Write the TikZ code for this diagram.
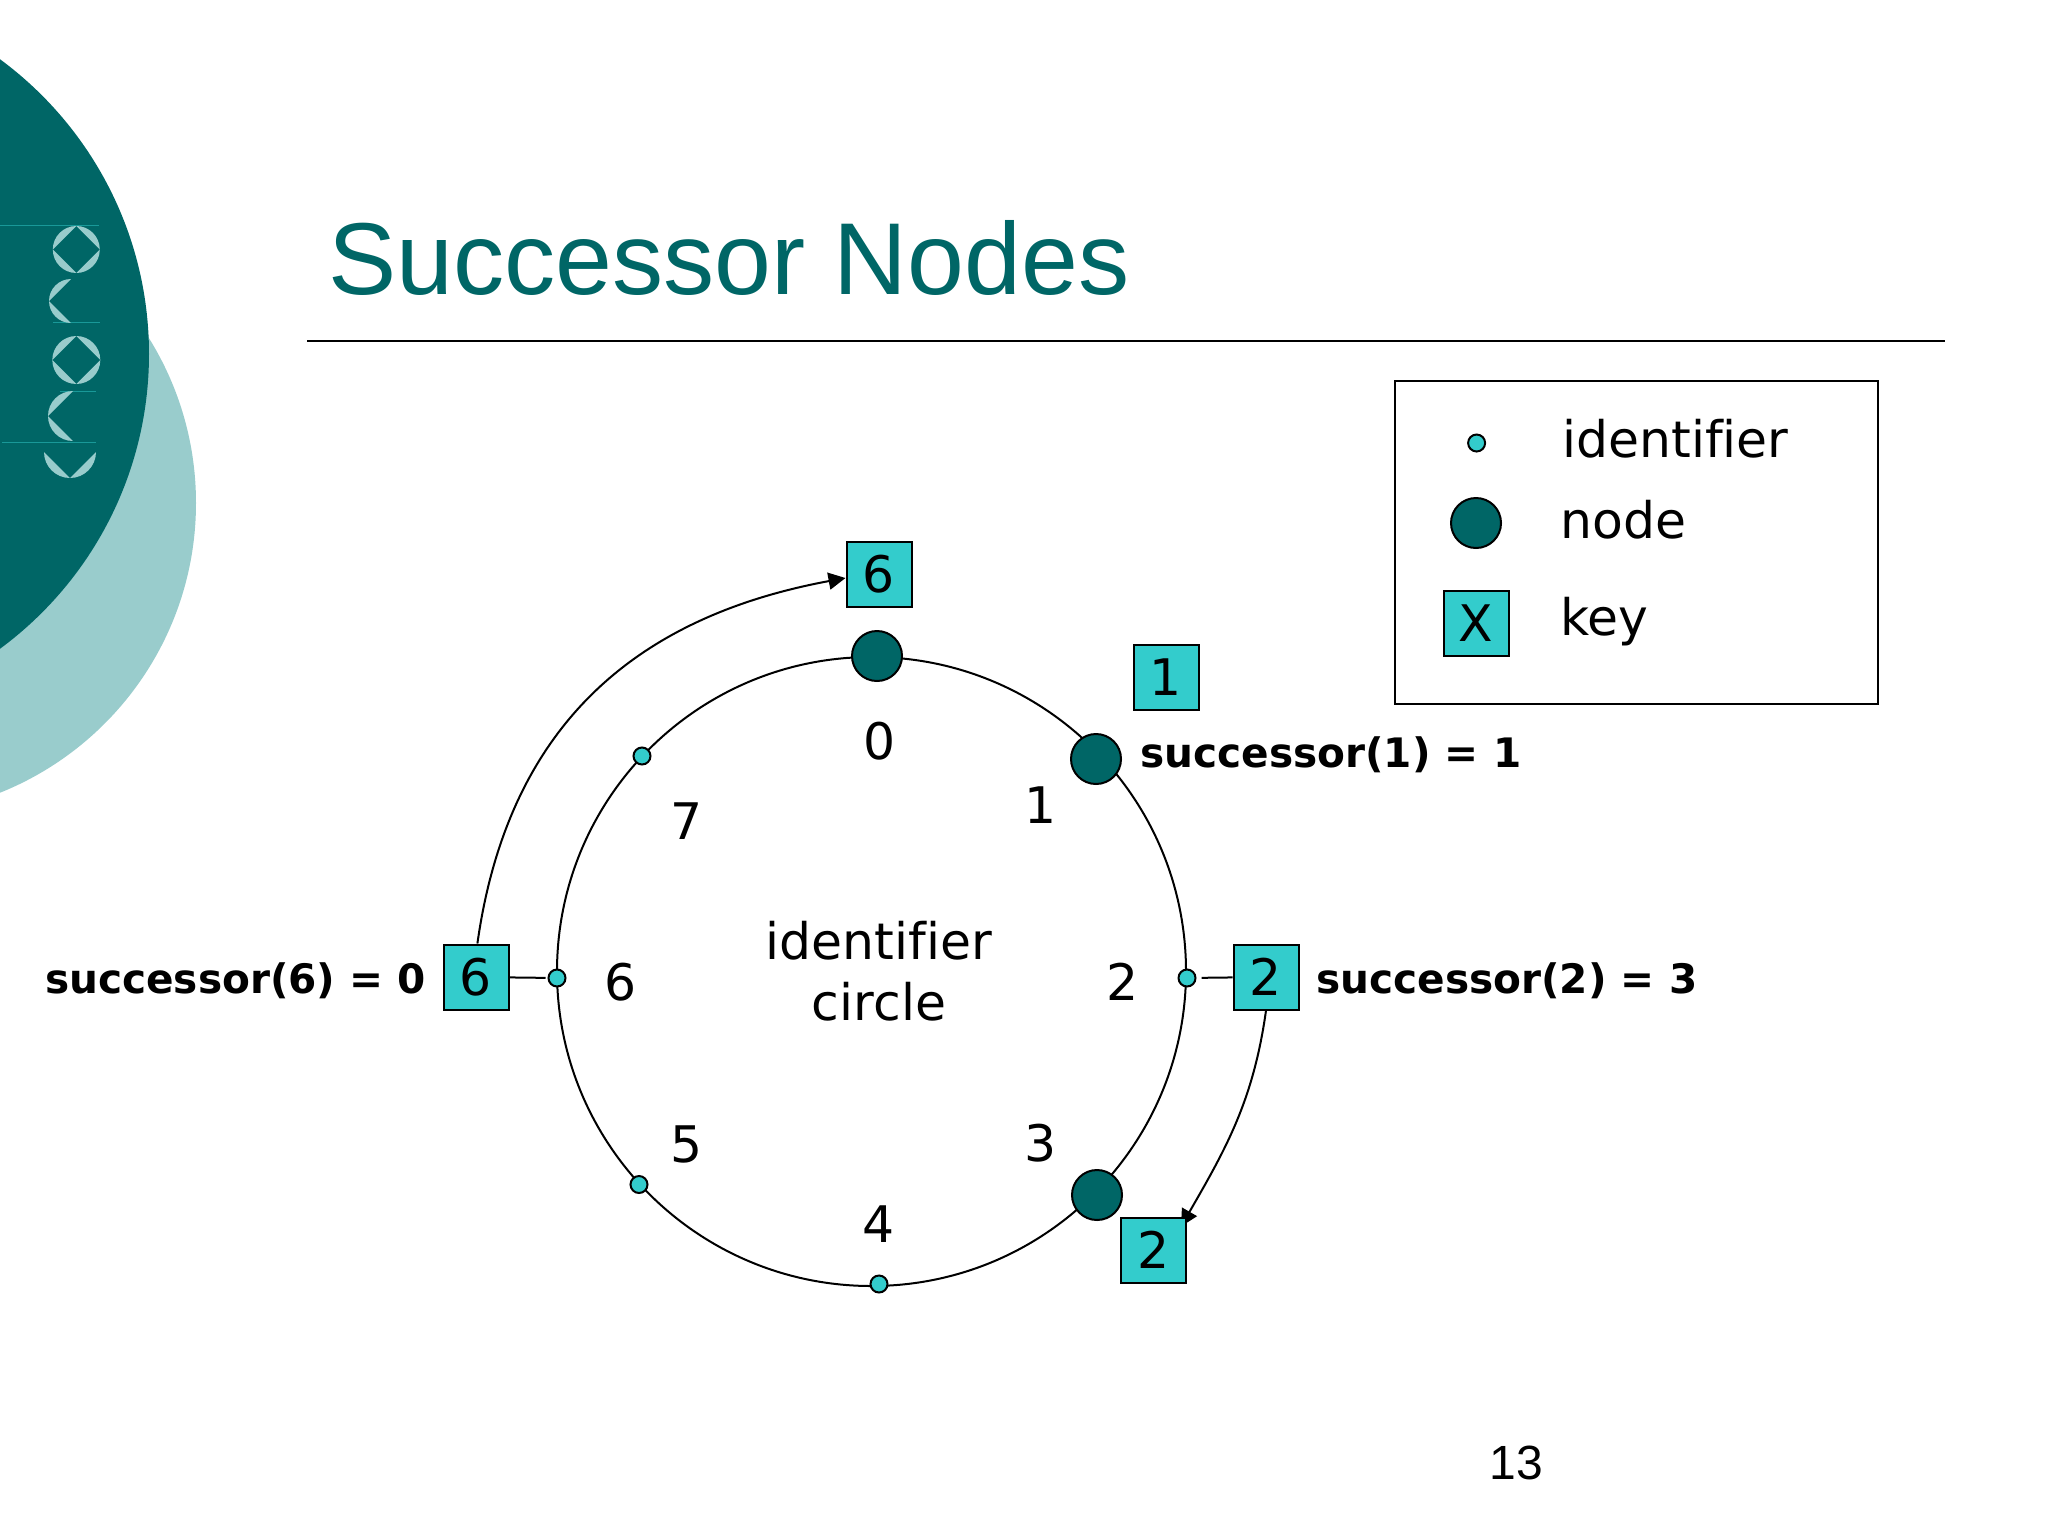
\documentclass[tikz,border=0pt]{standalone}
\usepackage{fontspec}
\setmainfont[Ligatures=NoCommon]{DejaVu Sans}
\newfontfamily\arialfont{Liberation Sans}
\usetikzlibrary{arrows.meta,backgrounds}
\definecolor{tealdark}{HTML}{006666}
\definecolor{teallight}{HTML}{99CCCC}
\definecolor{keycyan}{HTML}{33CCCC}
\newcommand{\lens}[4]{\fill[teallight] (#1,#2) ++(#4:#3) arc (#4:#4+90:#3) -- cycle;}
\tikzstyle{identifier} = [circle, draw, fill=keycyan, line width=1pt, inner sep=0pt, minimum size=8.5pt]
\tikzstyle{peer} = [circle, draw, fill=tealdark, line width=1pt, inner sep=0pt, minimum size=25pt]
\tikzstyle{keybox} = [rectangle, draw, fill=keycyan, line width=1pt, inner sep=0pt, minimum size=32.5pt, font=\fontsize{25.2}{30}\selectfont]
\tikzstyle{digit} = [inner sep=0pt, font=\fontsize{25.2}{30}\selectfont]
\tikzstyle{legendtext} = [inner sep=0pt, anchor=base west, font=\fontsize{25.2}{30}\selectfont]
\tikzstyle{succ} = [inner sep=0pt, font=\fontsize{20.3}{24}\selectfont\bfseries]
\tikzstyle{line} = [draw, line width=1pt]
\tikzstyle{arrow} = [draw, line width=1pt, -{Triangle[length=8.5pt,width=8.5pt]}]

\begin{document}
\begin{tikzpicture}[x=0.5pt,y=-0.5pt]
\useasboundingbox (0,0) rectangle (2048,1536);

% slide background
\begin{scope}
\clip (0,0) rectangle (2048,1536);
\fill[teallight] (-116,503) circle (312);
\fill[tealdark] (-217,354) circle (366);
\end{scope}
\foreach \cy/\xa/\xb in {225.7/0/99,322.7/53/100,391/60/96,442/2/96} \draw[keycyan!50!tealdark, line width=0.4pt] (\xa,\cy) -- (\xb,\cy);
\foreach \a in {0,90,180,270} {\lens{76.3}{249.5}{23.5}{\a} \lens{76.3}{360}{24}{\a}}
\foreach \a in {90,180} {\lens{71}{301}{22}{\a} \lens{73}{416}{25}{\a}}
\foreach \a in {0,90} {\lens{70}{452}{26}{\a}}

% title
\node [inner sep=0pt, anchor=base west, text=tealdark, font=\fontsize{51.1}{60}\arialfont] (title) at (328,294) {Successor Nodes};
\coordinate (rule_l) at (307,341);
\coordinate (rule_r) at (1945,341);
\path [line, line width=1.2pt] (rule_l) -- (rule_r);
\node [inner sep=0pt, font=\fontsize{24}{28}\arialfont] (pagenum) at (1516,1463) {13};

% legend
\node [draw, line width=1pt, minimum width=241.5pt, minimum height=161.5pt] (legend) at (1636.5,542.5) {};
\node [identifier] (legend_id) at (1476.6,443) {};
\node [peer] (legend_node) at (1476,523) {};
\node [keybox] (legend_key) at (1476,623) {X};
\node [legendtext] (legend_id_txt) at (1562,457) {identifier};
\node [legendtext] (legend_node_txt) at (1560,538) {node};
\node [legendtext] (legend_key_txt) at (1560,635) {key};

% ring
\node [circle, draw, line width=1pt, inner sep=0pt, minimum size=314.5pt] (ring) at (871.5,971.5) {};
\node [inner sep=0pt, align=center, font=\fontsize{25.2}{30.5}\selectfont] (ring_txt) at (879,971) {identifier\\circle};

\node [peer] (n0) at (877,656) {};
\node [peer] (n1) at (1096,759) {};
\node [identifier] (id2) at (1187,978) {};
\node [peer] (n3) at (1097,1195) {};
\node [identifier] (id4) at (879,1284) {};
\node [identifier] (id5) at (639,1184.5) {};
\node [identifier] (id6) at (557,978) {};
\node [identifier] (id7) at (642,756) {};

\node [digit] (d0) at (880,741) {0};
\node [digit] (d1) at (1041,805) {1};
\node [digit] (d2) at (1122.5,982) {2};
\node [digit] (d3) at (1041,1143) {3};
\node [digit] (d4) at (879,1224) {4};
\node [digit] (d5) at (687,1144) {5};
\node [digit] (d6) at (621,982) {6};
\node [digit] (d7) at (687,821) {7};

% keys
\node [keybox] (key_top) at (879,574) {6};
\node [keybox] (key_one) at (1166,677) {1};
\node [keybox] (key_two) at (1266,977) {2};
\node [keybox] (key_moved) at (1153.5,1250) {2};
\node [keybox] (key_six) at (476,977) {6};

\node [succ, anchor=west] (s1) at (1140,755) {successor(1) = 1};
\node [succ, anchor=west] (s2) at (1316,981) {successor(2) = 3};
\node [succ, anchor=east] (s6) at (426.5,981) {successor(6) = 0};

% arrows
\path [line, shorten >=2.5pt] (key_two) -- (id2);
\path [line, shorten >=1pt] (key_six) -- (id6);
\begin{pgfonlayer}{background}
\path [arrow] (key_two.south) to[out=262, in=60] ([xshift=-3pt,yshift=-5pt]key_moved.north east);
\end{pgfonlayer}
\path [arrow] ([xshift=0.7pt]key_six.north) to[out=82, in=190.5, looseness=1.07] ([yshift=-2pt]key_top.west);

\end{tikzpicture}
\end{document}
